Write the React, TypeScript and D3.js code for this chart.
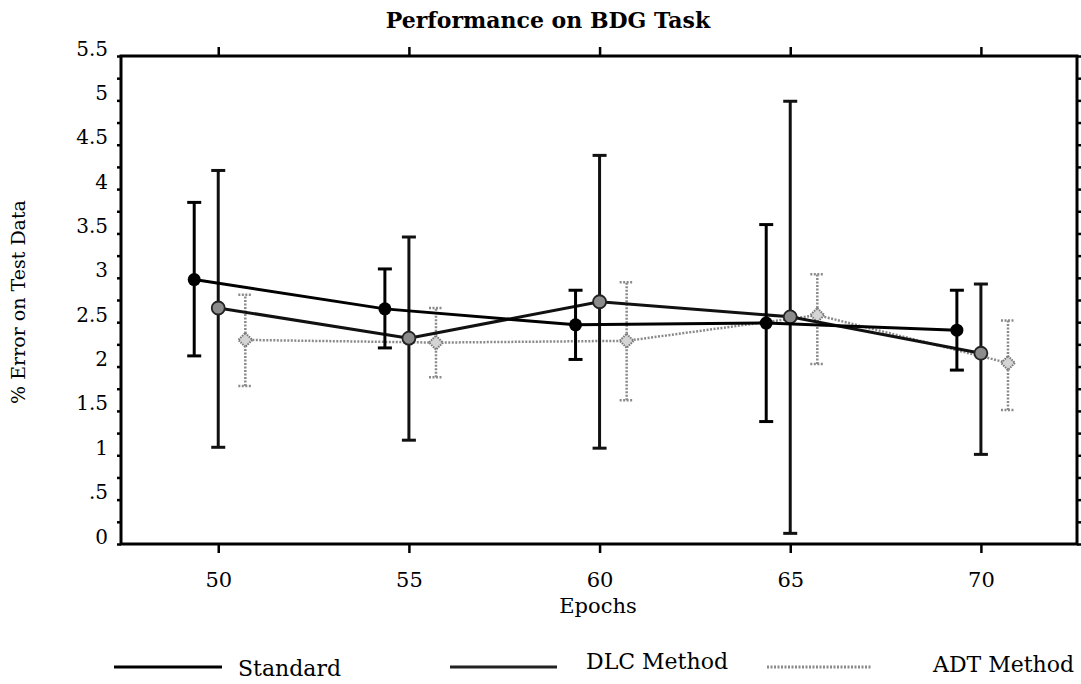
import React, { useEffect, useRef } from "react";
import * as d3 from "d3";

// values
const epochs = [50, 55, 60, 65, 70];

const standardMean = [2.98, 2.65, 2.47, 2.49, 2.41];
const standardLow = [2.12, 2.21, 2.08, 1.38, 1.96];
const standardHigh = [3.85, 3.1, 2.86, 3.6, 2.86];

const dlcMean = [2.66, 2.32, 2.73, 2.56, 2.15];
const dlcLow = [1.09, 1.17, 1.08, 0.12, 1.01];
const dlcHigh = [4.21, 3.46, 4.38, 4.99, 2.93];

const adtMean = [2.3, 2.27, 2.29, 2.58, 2.04];
const adtLow = [1.78, 1.88, 1.62, 2.03, 1.51];
const adtHigh = [2.81, 2.66, 2.95, 3.04, 2.52];

const xTickValues = [50, 55, 60, 65, 70];
const yTickValues = [0, 0.5, 1, 1.5, 2, 2.5, 3, 3.5, 4, 4.5, 5, 5.5];
const yTickLabels = ["0", ".5", "1", "1.5", "2", "2.5", "3", "3.5", "4", "4.5", "5", "5.5"];
const legendLabels = ["Standard", "DLC Method", "ADT Method"];

const W = 1081;
const H = 684;
const FONT = "DejaVu Serif";

type Pt = { x: number; m: number; lo: number; hi: number };

const zip = (offset: number, m: number[], lo: number[], hi: number[]): Pt[] =>
  epochs.map((e, i) => ({ x: e + offset, m: m[i], lo: lo[i], hi: hi[i] }));

function App() {
  const svgRef = useRef<SVGSVGElement>(null);

  useEffect(() => {
    const svg = d3.select(svgRef.current);
    svg.selectAll("*").remove();

    const left = 121, right = 1077, top = 56, bottom = 544;
    const x = d3.scaleLinear().domain([47.45, 72.52]).range([left, right]);
    const y = d3.scaleLinear().domain([0, 5.5]).range([bottom, top]);
    const minor = d3.range(0, 5.51, 0.25);

    // title
    svg.append("text")
      .attr("x", 548).attr("y", 28)
      .attr("text-anchor", "middle")
      .attr("font-family", FONT).attr("font-weight", "bold")
      .attr("font-size", 22)
      .text("Performance on BDG Task");

    // axes
    const styleAxis = (g: any, size = 20) => {
      g.select(".domain").remove();
      g.selectAll("line").attr("stroke", "#000").attr("stroke-width", 2.5);
      g.selectAll("text").attr("font-family", FONT).attr("font-size", size).attr("fill", "#000");
    };

    svg.append("g").attr("transform", `translate(${left},0)`)
      .call(d3.axisLeft(y).tickValues(minor).tickSize(4).tickFormat(() => ""))
      .call(styleAxis);
    svg.append("g").attr("transform", `translate(${left},0)`)
      .call(d3.axisLeft(y).tickValues(yTickValues).tickSize(0).tickPadding(13)
        .tickFormat((d, i) => yTickLabels[i]))
      .call(styleAxis, 20)
      .selectAll("text").attr("dy", "-0.05em");
    svg.append("g").attr("transform", `translate(${right},0)`)
      .call(d3.axisRight(y).tickValues(minor).tickSize(4).tickFormat(() => ""))
      .call(styleAxis);
    svg.append("g").attr("transform", `translate(0,${top})`)
      .call(d3.axisTop(x).tickValues(xTickValues).tickSize(9).tickFormat(() => ""))
      .call(styleAxis);
    svg.append("g").attr("transform", `translate(0,${bottom})`)
      .call(d3.axisBottom(x).tickValues(xTickValues).tickSize(9).tickPadding(19))
      .call(styleAxis, 21);

    // frame
    svg.append("rect")
      .attr("x", left).attr("y", top)
      .attr("width", right - left).attr("height", bottom - top)
      .attr("fill", "none").attr("stroke", "#000").attr("stroke-width", 3);

    // axis labels
    svg.append("text")
      .attr("x", 598).attr("y", 613)
      .attr("text-anchor", "middle")
      .attr("font-family", FONT).attr("font-size", 21)
      .text("Epochs");
    svg.append("text")
      .attr("transform", "translate(25,302) rotate(-90)")
      .attr("text-anchor", "middle")
      .attr("font-family", FONT).attr("font-size", 19)
      .text("% Error on Test Data");

    const line = d3.line<Pt>().x(d => x(d.x)).y(d => y(d.m));
    const cap = 7;

    const drawSeries = (data: Pt[], stroke: string, width: number, dash: string | null,
      marker: (g: any) => void) => {
      const g = svg.append("g");
      g.append("path").datum(data)
        .attr("d", line)
        .attr("fill", "none").attr("stroke", stroke).attr("stroke-width", width)
        .attr("stroke-dasharray", dash);
      const bars = g.selectAll("g.bar").data(data).join("g").attr("class", "bar")
        .attr("stroke", stroke).attr("stroke-width", width).attr("stroke-dasharray", dash);
      bars.append("line")
        .attr("x1", d => x(d.x)).attr("x2", d => x(d.x))
        .attr("y1", d => y(d.lo)).attr("y2", d => y(d.hi));
      bars.append("line")
        .attr("x1", d => x(d.x) - cap).attr("x2", d => x(d.x) + cap)
        .attr("y1", d => y(d.lo)).attr("y2", d => y(d.lo));
      bars.append("line")
        .attr("x1", d => x(d.x) - cap).attr("x2", d => x(d.x) + cap)
        .attr("y1", d => y(d.hi)).attr("y2", d => y(d.hi));
      marker(g.selectAll("g.mk").data(data).join("g").attr("class", "mk")
        .attr("transform", d => `translate(${x(d.x)},${y(d.m)})`));
    };

    drawSeries(zip(0.71, adtMean, adtLow, adtHigh), "#8a8a8a", 2.5, "2,1.5", m =>
      m.append("path").attr("d", "M0,-7L7,0L0,7L-7,0Z")
        .attr("fill", "#d4d4d4").attr("stroke", "#777").attr("stroke-width", 2)
        .attr("stroke-dasharray", "1.5,1"));
    drawSeries(zip(0, dlcMean, dlcLow, dlcHigh), "#111", 3, null, m =>
      m.append("circle").attr("r", 6.5)
        .attr("fill", "#8c8c8c").attr("stroke", "#222").attr("stroke-width", 1.8));
    drawSeries(zip(-0.63, standardMean, standardLow, standardHigh), "#000", 3, null, m =>
      m.append("circle").attr("r", 6.5).attr("fill", "#000"));

    // legend
    const legendLines = [[114, 222], [450, 557], [767, 872]];
    const legendText = [[238, 676], [586, 669], [933, 672]];
    const legendStyle = [
      { stroke: "#000", dash: null },
      { stroke: "#222", dash: null },
      { stroke: "#8a8a8a", dash: "2,1.5" },
    ];
    legendLabels.forEach((lab, i) => {
      svg.append("line")
        .attr("x1", legendLines[i][0]).attr("x2", legendLines[i][1])
        .attr("y1", 667).attr("y2", 667)
        .attr("stroke", legendStyle[i].stroke).attr("stroke-width", 3)
        .attr("stroke-dasharray", legendStyle[i].dash);
      svg.append("text")
        .attr("x", legendText[i][0]).attr("y", legendText[i][1])
        .attr("font-family", FONT).attr("font-size", 22)
        .text(lab);
    });
  }, []);

  return (
    <svg ref={svgRef} width={W} height={H}
      style={{ position: "absolute", left: 0, top: 0, background: "#fff" }} />
  );
}

export default App;
